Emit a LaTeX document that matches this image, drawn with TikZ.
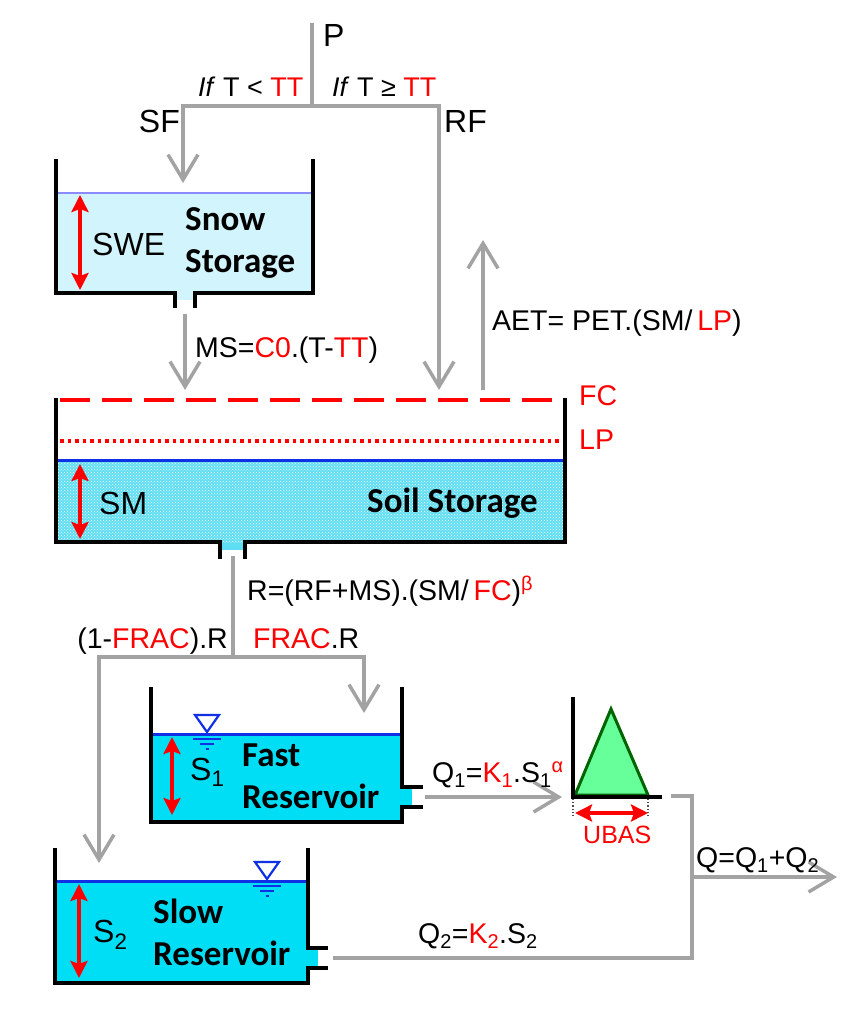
\documentclass[tikz,border=0pt]{standalone}
\usepackage{fontspec}
\setmainfont{Liberation Sans}
\newfontfamily\calibfont{Carlito}
\usetikzlibrary{arrows.meta,patterns}
\definecolor{flowgray}{RGB}{163,163,163}
\definecolor{snowfill}{RGB}{210,244,252}
\definecolor{snowline}{RGB}{140,140,255}
\definecolor{resfill}{RGB}{0,222,246}
\definecolor{soilfill}{RGB}{95,222,242}
\definecolor{wblue}{RGB}{16,48,230}
\definecolor{uhgreen}{RGB}{102,255,153}
\definecolor{uhdark}{RGB}{0,100,0}
\tikzset{
  gline/.style={draw=flowgray, line width=3.5pt},
  garrow/.style={draw=flowgray, line width=3.5pt, -{Straight Barb[length=25pt,width=30pt]}},
  wall/.style={draw=black, line width=4.5pt, line join=miter},
  levelarrow/.style={draw=red, line width=4pt, {Stealth[length=17pt,width=17pt,inset=3pt]}-{Stealth[length=17pt,width=17pt,inset=3pt]}},
  lab/.style={inner sep=0pt, font=\fontsize{28.5}{32}\selectfont},
  small/.style={inner sep=0pt, font=\fontsize{27}{30}\selectfont},
  big/.style={inner sep=0pt, font=\fontsize{32}{36}\selectfont},
  bold/.style={inner sep=0pt, align=left, font=\calibfont\bfseries\fontsize{35}{42}\selectfont},
  wsym/.pic={
    \draw[wblue, line width=2.2pt] (-12,-17) -- (12,-17) -- (0,0) -- cycle;
    \draw[wblue, line width=2pt] (-14,7) -- (14,7) (-7,12) -- (7,12) (-1.5,17) -- (1.5,17);
  }
}
\begin{document}
\begin{tikzpicture}[x=1pt,y=-1pt]
\useasboundingbox (0,0) rectangle (846,1014);

% ---------- precipitation split ----------
\coordinate (Ptop) at (312,23);
\coordinate (split) at (312,106);
\coordinate (SFin) at (183,183);
\coordinate (RFin) at (439,390);
\draw[gline] (Ptop) -- (split);
\draw[garrow] (split) -| (SFin);
\draw[garrow] (split) -| (RFin);
\node[big, anchor=base west] (P) at (323,47) {P};
\node[small, anchor=base west] (ifl) at (198,97) {\textit{If} T < \textcolor{red}{TT}};
\node[small, anchor=base west] (ifr) at (332,97) {\textit{If} T ≥ \textcolor{red}{TT}};
\node[big, anchor=base east] (SF) at (180,132) {SF};
\node[big, anchor=base west] (RF) at (444,132) {RF};

% ---------- snow storage ----------
\fill[snowfill] (56,193) rectangle (313,293);
\fill[snowfill] (175,290) rectangle (195,300);
\draw[snowline, line width=2.5pt] (56,193) -- (313,193);
\draw[wall] (56,159) -- (56,293) -- (175,293) -- (175,308);
\draw[wall] (313,159) -- (313,293) -- (195,293) -- (195,308);
\draw[levelarrow] (80,195) -- (80,290);
\node[big, anchor=base west] (SWE) at (92,255) {SWE};
\node[bold, anchor=base west] (snow) at (185,272) {Snow\\Storage};

% ---------- melt and AET ----------
\coordinate (snowout) at (185,314);
\coordinate (MSin) at (185,390);
\draw[garrow] (snowout) -- (MSin);
\node[lab, anchor=base west] (MS) at (195,357) {MS=\textcolor{red}{C0}.(T-\textcolor{red}{TT})};
\coordinate (AETfrom) at (483,390);
\coordinate (AETto) at (483,240);
\draw[garrow] (AETfrom) -- (AETto);
\node[lab, anchor=base west] (AET) at (492,330) {AET= PET.(SM/\,\textcolor{red}{LP})};

% ---------- soil storage ----------
\fill[soilfill] (56,460) rectangle (565,542);
\fill[soilfill] (220,540) rectangle (245,550);
\fill[pattern=crosshatch dots, pattern color=white] (56,460) rectangle (565,542);
\draw[red, line width=4pt, dash pattern=on 30pt off 12pt] (60,400) -- (565,400);
\draw[red, line width=3.5pt, dash pattern=on 3.5pt off 4pt] (60,441) -- (565,441);
\draw[wblue, line width=3pt] (56,460) -- (565,460);
\draw[wall] (56,398) -- (56,542) -- (220,542) -- (220,559);
\draw[wall] (565,398) -- (565,542) -- (245,542) -- (245,559);
\draw[levelarrow] (80,464) -- (80,539);
\node[big, anchor=base west] (SM) at (99,514) {SM};
\node[bold, anchor=base west] (soil) at (367,512) {Soil Storage};
\node[lab, anchor=base west, text=red] (FC) at (579,405) {FC};
\node[lab, anchor=base west, text=red] (LP) at (579,449) {LP};

% ---------- recharge split ----------
\coordinate (soilout) at (233,556);
\coordinate (split2) at (233,657);
\coordinate (fastin) at (364,713);
\coordinate (slowin) at (99,863);
\draw[gline] (soilout) -- (split2);
\draw[garrow] (split2) -| (fastin);
\draw[garrow] (split2) -| (slowin);
\node[lab, anchor=base west] (R) at (247,600) {R=(RF+MS).(SM/\,\textcolor{red}{FC})\textsuperscript{\textcolor{red}{β}}};
\node[lab, anchor=base east] (slowfrac) at (228,648) {(1-\textcolor{red}{FRAC}).R};
\node[lab, anchor=base west] (fastfrac) at (253,648) {\textcolor{red}{FRAC}.R};

% ---------- fast reservoir ----------
\fill[resfill] (151,734) rectangle (402,822);
\fill[resfill] (400,789) rectangle (412,805);
\draw[wblue, line width=3pt] (151,734) -- (402,734);
\draw[wall] (151,687) -- (151,822) -- (402,822) -- (402,807) -- (423,807);
\draw[wall] (402,687) -- (402,787) -- (423,787);
\draw[levelarrow] (172,737) -- (172,815);
\pic at (207,732) {wsym};
\node[big, anchor=base west] (S1) at (190,780) {S\textsubscript{1}};
\node[bold, anchor=base west] (fast) at (242,808) {Fast\\Reservoir};

% ---------- unit hydrograph ----------
\coordinate (fastout) at (425,797);
\coordinate (UHin) at (562,797);
\draw[garrow] (fastout) -- (UHin);
\node[lab, anchor=base west] (Q1) at (432,782) {Q\textsubscript{1}=\textcolor{red}{K\textsubscript{1}}.S\textsubscript{1}\textsuperscript{\textcolor{red}{α}}};
\draw[fill=uhgreen, draw=uhdark, line width=3pt, line join=miter] (575,795) -- (611,709) -- (648,795) -- cycle;
\draw[black, line width=4pt] (573,697) -- (573,797) -- (662,797);
\draw[black!70, line width=1.2pt, dotted] (573,799) -- (573,817) (648,799) -- (648,817);
\draw[levelarrow, line width=3.5pt] (575,813) -- (648,813);
\node[inner sep=0pt, anchor=base west, text=red, font=\fontsize{25}{28}\selectfont] (UBAS) at (583,843) {UBAS};

% ---------- outflow ----------
\coordinate (UHout) at (671,796);
\coordinate (jbot) at (692,958);
\coordinate (junction) at (692,877);
\coordinate (Qend) at (837,877);
\coordinate (slowout) at (333,958);
\draw[gline] (UHout) -| (jbot) -- (slowout);
\draw[garrow] (junction) -- (Qend);
\node[lab, anchor=base west] (Q) at (696,867) {Q=Q\textsubscript{1}+Q\textsubscript{2}};
\node[lab, anchor=base west] (Q2) at (418,943) {Q\textsubscript{2}=\textcolor{red}{K\textsubscript{2}}.S\textsubscript{2}};

% ---------- slow reservoir ----------
\fill[resfill] (55,881) rectangle (308,983);
\fill[resfill] (306,950) rectangle (318,966);
\draw[wblue, line width=3pt] (55,881) -- (308,881);
\draw[wall] (55,848) -- (55,983) -- (308,983) -- (308,968) -- (328,968);
\draw[wall] (308,848) -- (308,948) -- (328,948);
\draw[levelarrow] (79,884) -- (79,978);
\pic at (267,879) {wsym};
\node[big, anchor=base west] (S2) at (93,942) {S\textsubscript{2}};
\node[bold, anchor=base west] (slow) at (153,965) {Slow\\Reservoir};
\end{tikzpicture}
\end{document}
